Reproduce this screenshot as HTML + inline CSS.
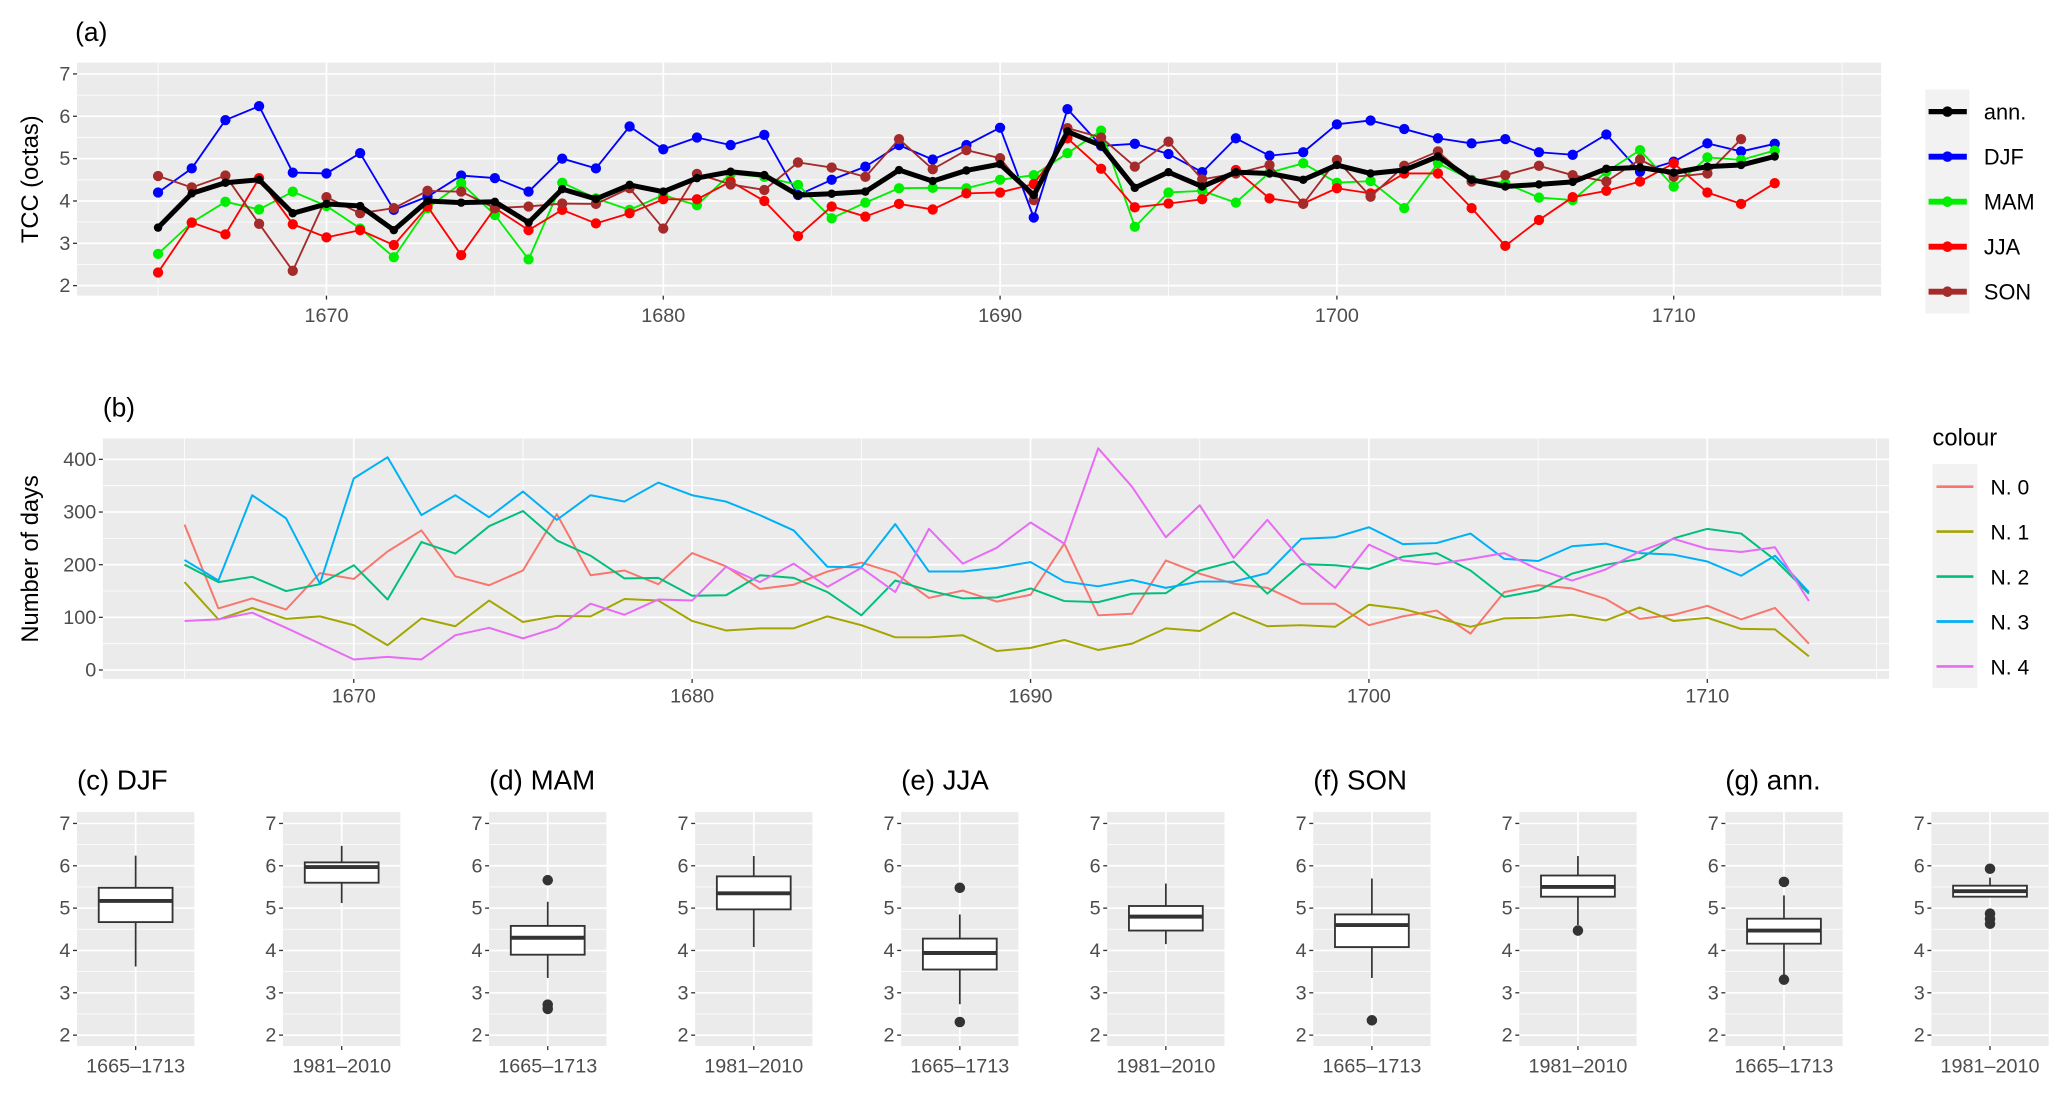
<!DOCTYPE html>
<html><head><meta charset="utf-8"><style>
html,body{margin:0;padding:0;background:#fff;}
svg{display:block;}
text{font-family:"Liberation Sans",sans-serif;}
</style></head><body>
<svg id="fig" xmlns="http://www.w3.org/2000/svg" width="2067" height="1093" viewBox="0 0 1568 829.2" preserveAspectRatio="none"></svg>
<script>
// ---------- Panel (a) data ----------
const yearsA = [];
for (let y = 1665; y <= 1713; y++) yearsA.push(y);
const annVals = [3.37,4.18,4.43,4.5,3.71,3.93,3.88,3.31,4.0,3.96,3.98,3.49,4.28,4.05,4.38,4.22,4.54,4.69,4.61,4.14,4.17,4.22,4.73,4.47,4.72,4.87,4.14,5.64,5.31,4.31,4.68,4.34,4.68,4.65,4.5,4.85,4.65,4.73,5.05,4.5,4.34,4.39,4.45,4.76,4.79,4.67,4.81,4.85,5.05];
const djfVals = [4.2,4.77,5.91,6.24,4.67,4.65,5.13,3.79,4.1,4.6,4.54,4.22,5.0,4.77,5.76,5.22,5.5,5.32,5.56,4.14,4.5,4.81,5.32,4.98,5.32,5.73,3.61,6.17,5.3,5.35,5.11,4.68,5.48,5.07,5.15,5.81,5.9,5.7,5.48,5.36,5.46,5.15,5.09,5.57,4.69,4.93,5.36,5.17,5.35];
const mamVals = [2.75,3.49,3.98,3.8,4.22,3.88,3.35,2.67,3.83,4.42,3.67,2.62,4.43,4.06,3.79,4.14,3.9,4.64,4.57,4.38,3.59,3.96,4.3,4.31,4.3,4.5,4.61,5.13,5.66,3.39,4.2,4.24,3.96,4.67,4.89,4.43,4.47,3.83,4.89,4.5,4.42,4.08,4.02,4.69,5.2,4.34,5.03,4.97,5.19];
const jjaVals = [2.31,3.49,3.21,4.54,3.45,3.14,3.31,2.96,3.87,2.72,3.83,3.31,3.79,3.47,3.71,4.04,4.04,4.46,4.0,3.17,3.87,3.63,3.93,3.8,4.18,4.2,4.4,5.48,4.76,3.85,3.94,4.04,4.73,4.06,3.94,4.3,4.18,4.65,4.65,3.83,2.94,3.55,4.09,4.24,4.46,4.89,4.2,3.93,4.42];
const sonVals = [4.59,4.32,4.6,3.46,2.35,4.09,3.71,3.83,4.24,4.22,3.83,3.87,3.94,3.93,4.3,3.35,4.64,4.39,4.26,4.91,4.79,4.57,5.46,4.75,5.2,5.01,4.02,5.72,5.5,4.81,5.4,4.51,4.65,4.85,3.93,4.97,4.1,4.83,5.17,4.46,4.61,4.83,4.61,4.46,4.98,4.57,4.65,5.46,null];
const seriesNamesA = ["ann.","DJF","MAM","JJA","SON"];
const yTicksA = [2,3,4,5,6,7];
const xTicksA = [1670,1680,1690,1700,1710];

// ---------- Panel (b) data ----------
const yearsB = yearsA;
const n0Vals = [276,117,136,115,184,173,225,265,178,161,189,296,180,189,163,222,197,154,162,187,204,184,137,151,130,143,240,104,107,208,183,164,156,126,126,85,102,113,69,148,161,155,135,97,105,122,96,118,50];
const n1Vals = [167,96,118,97,102,85,47,98,83,132,91,103,102,135,132,93,75,79,79,102,85,62,62,66,36,42,57,38,50,79,74,109,83,85,82,124,116,99,82,98,99,105,94,119,93,99,78,77,26];
const n2Vals = [200,167,177,150,163,199,134,243,221,273,302,246,217,174,175,141,142,180,175,148,104,170,151,136,138,155,131,129,145,146,189,206,145,201,199,192,215,222,189,139,151,183,200,211,250,268,259,209,145];
const n3Vals = [209,170,332,288,164,364,404,294,332,290,339,285,332,320,356,332,320,294,265,196,195,277,187,187,194,205,168,159,171,156,168,168,184,249,252,271,239,241,259,211,207,235,240,222,219,206,179,217,148];
const n4Vals = [93,96,109,80,50,20,25,20,66,80,60,80,126,105,134,132,196,167,202,158,194,148,268,202,232,280,240,421,348,252,313,213,285,209,156,238,208,201,211,222,191,170,191,225,249,230,224,233,131];
const seriesNamesB = ["N. 0","N. 1","N. 2","N. 3","N. 4"];
const yTicksB = [0,100,200,300,400];
const xTicksB = [1670,1680,1690,1700,1710];

// ---------- Boxplot data ----------
const boxTitles = ["(c) DJF","(d) MAM","(e) JJA","(f) SON","(g) ann."];
const boxPeriods = ["1665\u20131713","1981\u20132010"];
const boxLow    = [3.62,5.12,3.35,4.08,2.73,4.15,3.35,4.6,3.42,5.27];
const boxQ1     = [4.67,5.6,3.9,4.97,3.55,4.47,4.08,5.27,4.16,5.27];
const boxMed    = [5.17,5.97,4.3,5.35,3.94,4.8,4.6,5.5,4.47,5.4];
const boxQ3     = [5.48,6.08,4.58,5.75,4.28,5.05,4.85,5.77,4.75,5.53];
const boxHigh   = [6.24,6.47,5.15,6.23,4.85,5.58,5.7,6.23,5.3,5.72];
const boxOutliers = [[],[],[5.66,2.72,2.62],[],[5.48,2.31],[],[2.35],[4.47],[5.62,3.31],[5.93,4.87,4.75,4.63]];
const yTicksBox = [2,3,4,5,6,7];

// ---------- drawing ----------
const NS = "http://www.w3.org/2000/svg";
const svg = document.getElementById("fig");
function mk(tag, attrs, parent) {
  const e = document.createElementNS(NS, tag);
  for (const k in attrs) e.setAttribute(k, attrs[k]);
  (parent || svg).appendChild(e);
  return e;
}
function txt(s, attrs, parent) { const t = mk("text", attrs, parent); t.textContent = s; return t; }
const GRAY = "#ebebeb", TICKC = "#4d4d4d";

// Panel (a)
const A = {x0:58.4, x1:1427, y0:47.5, y1:224.3};
const xA = y => 119.9 + (y - 1665) * 25.55;
const yA = v => 216.7 - (v - 2) * 32.12;
const gA = mk("g", {});


mk("rect", {x:A.x0, y:A.y0, width:A.x1-A.x0, height:A.y1-A.y0, fill:GRAY}, gA);
for (let v = 1.5; v <= 7.5; v += 1) { const yy = yA(v); if (yy > A.y0 && yy < A.y1) mk("line", {x1:A.x0,x2:A.x1,y1:yy,y2:yy,stroke:"#fff","stroke-width":0.6}, gA); }
for (let yr = 1665; yr <= 1715; yr += 10) mk("line", {x1:xA(yr),x2:xA(yr),y1:A.y0,y2:A.y1,stroke:"#fff","stroke-width":0.6}, gA);
yTicksA.forEach(v => {
  mk("line",{x1:A.x0,x2:A.x1,y1:yA(v),y2:yA(v),stroke:"#fff","stroke-width":1.3},gA);
  mk("line",{x1:A.x0-3,x2:A.x0,y1:yA(v),y2:yA(v),stroke:"#333","stroke-width":1},gA);
  const t = txt(String(v),{x:A.x0-5,y:yA(v)+5,"text-anchor":"end","font-size":15,fill:TICKC},gA);
  
  
});
xTicksA.forEach(yr => {
  mk("line",{x1:xA(yr),x2:xA(yr),y1:A.y0,y2:A.y1,stroke:"#fff","stroke-width":1.3},gA);
  mk("line",{x1:xA(yr),x2:xA(yr),y1:A.y1,y2:A.y1+3,stroke:"#333","stroke-width":1},gA);
  const t = txt(String(yr),{x:xA(yr),y:A.y1+20,"text-anchor":"middle","font-size":15,fill:TICKC},gA);
  
  
});
const ta = txt("(a)",{x:57,y:31,"font-size":20,fill:"#000"});  
const yla = txt("TCC (octas)",{x:0,y:0,"font-size":18,fill:"#000","text-anchor":"middle",transform:"translate(29,136) rotate(-90)"});
 

const aSeries = [
  {vals:djfVals, color:"#0000ff", w:1.4, r:3.9, name:"DJF"},
  {vals:mamVals, color:"#00ee00", w:1.4, r:3.9, name:"MAM"},
  {vals:jjaVals, color:"#ff0000", w:1.4, r:3.9, name:"JJA"},
  {vals:sonVals, color:"#a52a2a", w:1.4, r:3.9, name:"SON"},
  {vals:annVals, color:"#000000", w:3.8, r:3.2, name:"ann."}
];
aSeries.forEach(s => {
  const g = mk("g",{},gA);
  
  
  let d = "", pen = false;
  yearsA.forEach((yr,i) => { const v = s.vals[i]; if (v == null) { pen = false; return; } d += (pen?"L":"M") + xA(yr).toFixed(1) + "," + yA(v).toFixed(1); pen = true; });
  mk("path",{d:d,fill:"none",stroke:s.color,"stroke-width":s.w,"stroke-linejoin":"round"},g);
  yearsA.forEach((yr,i) => { const v = s.vals[i]; if (v == null) return;
    const c = mk("circle",{cx:xA(yr),cy:yA(v),r:s.r,fill:s.color},g);
    
    
  });
});
// legend a
const legA = mk("g",{});


mk("rect",{x:1460.5,y:67.8,width:33.5,height:170,fill:"#f2f2f2"},legA);
const legColsA = ["#000000","#0000ff","#00ee00","#ff0000","#a52a2a"];
seriesNamesA.forEach((n,i) => {
  const yy = 84.7 + i*34.15;
  const g = mk("g",{},legA);
  
  
  mk("line",{x1:1463,x2:1492,y1:yy,y2:yy,stroke:legColsA[i],"stroke-width":i==0?4:4.5},g);
  mk("circle",{cx:1477.3,cy:yy,r:4,fill:legColsA[i]},g);
  txt(n,{x:1505,y:yy+6,"font-size":16.5,fill:"#000"},g);
});

// Panel (b)
const B = {x0:78, x1:1433, y0:332.6, y1:515.1};
const xB = y => 140 + (y - 1665) * 25.67;
const yB = v => 508.3 - v * 0.3995;
const gB = mk("g",{});


mk("rect",{x:B.x0,y:B.y0,width:B.x1-B.x0,height:B.y1-B.y0,fill:GRAY},gB);
for (let v = 50; v <= 400; v += 100) mk("line",{x1:B.x0,x2:B.x1,y1:yB(v),y2:yB(v),stroke:"#fff","stroke-width":0.6},gB);
for (let yr = 1665; yr <= 1715; yr += 10) mk("line",{x1:xB(yr),x2:xB(yr),y1:B.y0,y2:B.y1,stroke:"#fff","stroke-width":0.6},gB);
yTicksB.forEach(v => {
  mk("line",{x1:B.x0,x2:B.x1,y1:yB(v),y2:yB(v),stroke:"#fff","stroke-width":1.3},gB);
  mk("line",{x1:B.x0-3,x2:B.x0,y1:yB(v),y2:yB(v),stroke:"#333","stroke-width":1},gB);
  const t = txt(String(v),{x:B.x0-5,y:yB(v)+5,"text-anchor":"end","font-size":15,fill:TICKC},gB);
  
  
});
xTicksB.forEach(yr => {
  mk("line",{x1:xB(yr),x2:xB(yr),y1:B.y0,y2:B.y1,stroke:"#fff","stroke-width":1.3},gB);
  mk("line",{x1:xB(yr),x2:xB(yr),y1:B.y1,y2:B.y1+3,stroke:"#333","stroke-width":1},gB);
  const t = txt(String(yr),{x:xB(yr),y:B.y1+18,"text-anchor":"middle","font-size":15,fill:TICKC},gB);
  
  
});
const tb = txt("(b)",{x:78,y:316,"font-size":20,fill:"#000"});  
const ylb = txt("Number of days",{x:0,y:0,"font-size":18,fill:"#000","text-anchor":"middle",transform:"translate(29,424) rotate(-90)"});
 
const colsB = ["#F8766D","#A3A500","#00BF7D","#00B0F6","#E76BF3"];
const valsB = [n0Vals,n1Vals,n2Vals,n3Vals,n4Vals];
valsB.forEach((vals,k) => {
  let d = "";
  yearsB.forEach((yr,i) => { d += (i?"L":"M") + xB(yr).toFixed(1) + "," + yB(vals[i]).toFixed(1); });
  const p = mk("path",{d:d,fill:"none",stroke:colsB[k],"stroke-width":1.5,"stroke-linejoin":"round"},gB);
  
  
});
const legB = mk("g",{});


txt("colour",{x:1466,y:338,"font-size":18,fill:"#000"},legB);
mk("rect",{x:1466,y:352,width:34,height:170,fill:"#f2f2f2"},legB);
seriesNamesB.forEach((n,i) => {
  const yy = 369.2 + i*34.1;
  const g = mk("g",{},legB);
  
  
  mk("line",{x1:1469,x2:1497,y1:yy,y2:yy,stroke:colsB[i],"stroke-width":2},g);
  txt(n,{x:1510,y:yy+6,"font-size":16,fill:"#000"},g);
});

// Boxplots
const yBx = v => 785.3 - (v - 2) * 32.12;
const BX = {y0:616, y1:793.6, w:89};
for (let i = 0; i < 10; i++) {
  const px = 58.4 + i * 156.3, cx = px + BX.w/2;
  const g = mk("g",{});
  
  
  mk("rect",{x:px,y:BX.y0,width:BX.w,height:BX.y1-BX.y0,fill:GRAY},g);
  for (let v = 1.5; v <= 7.5; v += 1) { const yy = yBx(v); if (yy > BX.y0 && yy < BX.y1) mk("line",{x1:px,x2:px+BX.w,y1:yy,y2:yy,stroke:"#fff","stroke-width":0.6},g); }
  yTicksBox.forEach(v => {
    mk("line",{x1:px,x2:px+BX.w,y1:yBx(v),y2:yBx(v),stroke:"#fff","stroke-width":1.3},g);
    mk("line",{x1:px-3,x2:px,y1:yBx(v),y2:yBx(v),stroke:"#333","stroke-width":1},g);
    txt(String(v),{x:px-5,y:yBx(v)+5,"text-anchor":"end","font-size":15,fill:TICKC},g);
  });
  mk("line",{x1:cx,x2:cx,y1:BX.y0,y2:BX.y1,stroke:"#fff","stroke-width":1.3},g);
  mk("line",{x1:cx,x2:cx,y1:BX.y1,y2:BX.y1+3,stroke:"#333","stroke-width":1},g);
  const xl = txt(boxPeriods[i%2],{x:cx,y:BX.y1+20,"text-anchor":"middle","font-size":15,fill:TICKC},g);
  
  
  // box
  const b = mk("g",{},g);
  
  
  mk("line",{x1:cx,x2:cx,y1:yBx(boxHigh[i]),y2:yBx(boxQ3[i]),stroke:"#333","stroke-width":1.3},b);
  mk("line",{x1:cx,x2:cx,y1:yBx(boxQ1[i]),y2:yBx(boxLow[i]),stroke:"#333","stroke-width":1.3},b);
  mk("rect",{x:cx-28,y:yBx(boxQ3[i]),width:56,height:yBx(boxQ1[i])-yBx(boxQ3[i]),fill:"#fff",stroke:"#333","stroke-width":1.4},b);
  mk("line",{x1:cx-28,x2:cx+28,y1:yBx(boxMed[i]),y2:yBx(boxMed[i]),stroke:"#333","stroke-width":3},b);
  boxOutliers[i].forEach(v => {
    const c = mk("circle",{cx:cx,cy:yBx(v),r:4,fill:"#333"},b);
    
    
  });
  if (i % 2 === 0) {
    const t = txt(boxTitles[i/2],{x:px,y:599,"font-size":21,fill:"#000"});
    
    
  }
}
</script>
</body></html>
